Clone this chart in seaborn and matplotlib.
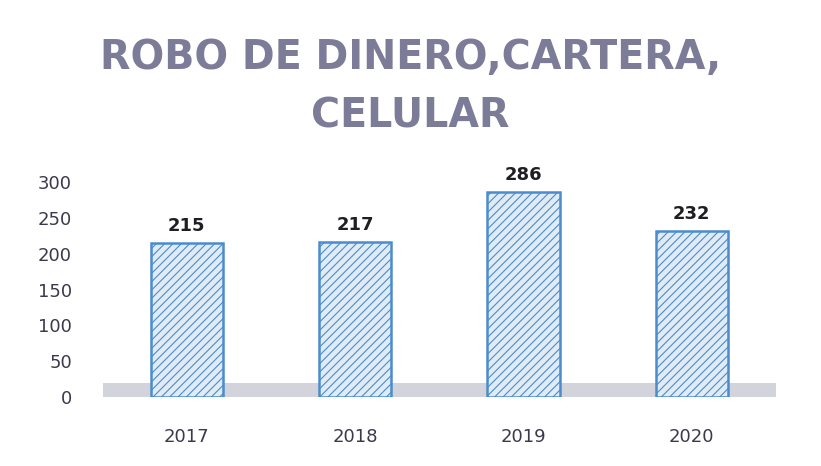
import pandas as pd
import matplotlib.pyplot as plt
import seaborn as sns

# Data
years = ["2017", "2018", "2019", "2020"]
robos = [215, 217, 286, 232]

df = pd.DataFrame({"Año": years, "Robos": robos})

sns.set_theme(style="white")
plt.rcParams['font.family'] = ['DejaVu Sans']
plt.rcParams['hatch.color'] = '#b3d2ef'
plt.rcParams['hatch.linewidth'] = 0.8

fig = plt.figure(figsize=(8.21, 4.66), dpi=100)
ax = fig.add_axes([0.125, 0.148, 0.82, 0.461])

# grey "floor" band behind the bars
ax.axhspan(-4, 20, color='#c9c9d3', alpha=0.8, zorder=0, lw=0)

sns.barplot(data=df, x="Año", y="Robos", ax=ax, color='#dcebf9', width=0.43,
            edgecolor='#4a8ccc', linewidth=1.8, hatch='////', zorder=2)

for p, v in zip(ax.containers[0], robos):
    ax.annotate(str(v), (p.get_x() + p.get_width() / 2, v + 11),
                ha='center', va='bottom', fontsize=13, fontweight='bold',
                color='#1e1e24', annotation_clip=False)

ax.set_ylim(0, 300)
ax.set_yticks(range(0, 301, 50))
ax.set_xlim(-0.5, 3.5)
ax.set_xlabel('')
ax.set_ylabel('')
ax.tick_params(axis='y', labelsize=13, labelcolor='#3a3a4c', pad=22, length=0)
ax.tick_params(axis='x', labelsize=13, labelcolor='#3a3a4c', pad=22, length=0)
sns.despine(ax=ax, left=True, bottom=True)

fig.suptitle('ROBO DE DINERO,CARTERA,\nCELULAR', y=0.918, fontsize=28.5,
             fontweight='bold', color='#7c7c98', linespacing=1.6)

fig.savefig('out.png', dpi=100, facecolor='white')
